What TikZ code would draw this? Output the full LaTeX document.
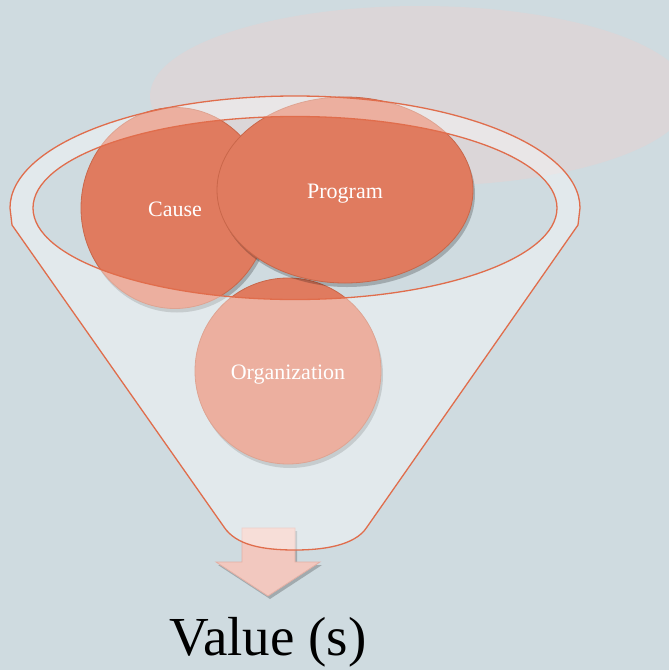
\documentclass[tikz,border=0pt]{standalone}
\usepackage{fontspec}
\setmainfont{Liberation Serif}
\usetikzlibrary{shapes.geometric,shadows}
\definecolor{bg}{HTML}{CFDBE0}
\definecolor{greyell}{HTML}{DBD6D8}
\definecolor{circdark}{HTML}{E07B5F}
\definecolor{circedge}{HTML}{C9674A}
\definecolor{arrowfill}{HTML}{F2C8BF}
\definecolor{arrowedge}{HTML}{E3B0A5}
\definecolor{funnelcol}{HTML}{E06D4C}
\begin{document}
\begin{tikzpicture}[x=1pt,y=-1pt,
  circ/.style={ellipse, inner sep=0pt, fill=circdark, draw=circedge, line width=0.8pt,
    text=white, font=\fontsize{22}{24}\selectfont, text height=16pt, text depth=0pt,
    drop shadow={shadow xshift=2pt, shadow yshift=-4pt, opacity=0.22, fill=black}},
  arrowstyle/.style={fill=arrowfill, draw=arrowedge, line width=0.8pt,
    drop shadow={shadow xshift=2pt, shadow yshift=-3pt, opacity=0.22, fill=black}},
  funnelfill/.style={fill=white, fill opacity=0.4, even odd rule},
  funnelline/.style={draw=funnelcol, line width=1.3pt, line join=round}]
\useasboundingbox (0,0) rectangle (669,670);
\clip (0,0) rectangle (669,670);
\fill[bg] (0,0) rectangle (669,670);
\fill[greyell] (420,96) ellipse[x radius=270pt, y radius=90pt];
% arrow
\draw[arrowstyle] (242,528) -- (295,528) -- (295,562) -- (320,562) -- (268,596) -- (216,562) -- (242,562) -- cycle;
% circles
\node[circ, minimum width=186pt, minimum height=186pt] (org) at (288,371) {Organization};
\node[circ, minimum width=188pt, minimum height=201pt] (cause) at (175,208) {Cause};
\node[circ, minimum width=256pt, minimum height=186pt] (prog) at (345,190) {Program};
% funnel overlay
\fill[funnelfill] (10,208) arc[start angle=180, end angle=0, x radius=285pt, y radius=112pt]
  -- (578,225) -- (367,527) .. controls (355,546) and (322,550) .. (295,550)
  .. controls (262,550) and (236,545) .. (224,527) -- (12,225) -- cycle
  (295,208) ellipse[x radius=262pt, y radius=91.5pt];
\draw[funnelline] (10,208) arc[start angle=180, end angle=0, x radius=285pt, y radius=112pt]
  -- (578,225) -- (367,527) .. controls (355,546) and (322,550) .. (295,550)
  .. controls (262,550) and (236,545) .. (224,527) -- (12,225) -- cycle;
\draw[funnelline] (295,208) ellipse[x radius=262pt, y radius=91.5pt];
% label
\node[font=\fontsize{55}{58}\selectfont, anchor=base, inner sep=0pt] (value) at (268,655) {Value (s)};
\end{tikzpicture}
\end{document}
